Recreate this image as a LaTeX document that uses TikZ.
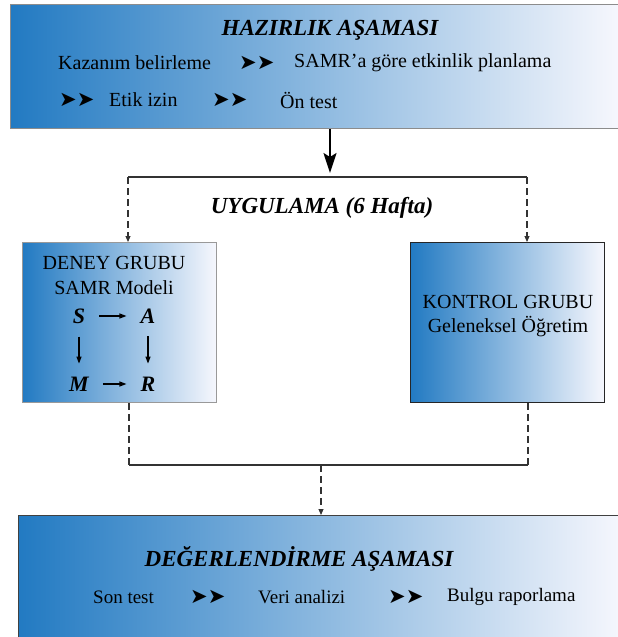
\documentclass[tikz,border=0pt]{standalone}
\usepackage{fontspec}
\setmainfont{Liberation Serif}
\newfontfamily\chevfont{DejaVu Sans}
\usetikzlibrary{arrows.meta}
\definecolor{gblue}{RGB}{34,122,194}
\definecolor{gwhite}{RGB}{246,247,253}
\begin{document}
\begin{tikzpicture}[x=1pt,y=-1pt,
  gbox/.style={left color=gblue,right color=gwhite,anchor=north west,inner sep=0pt},
  txt/.style={font=\fontsize{20}{24}\selectfont,inner sep=0pt,anchor=west},
  btxt/.style={font=\fontsize{19}{23}\selectfont,inner sep=0pt,anchor=west},
  ctxt/.style={font=\fontsize{20}{24}\selectfont,inner sep=0pt},
  ttl/.style={font=\fontsize{23}{27}\selectfont\bfseries\itshape,inner sep=0pt},
  chev/.style={font=\chevfont\fontsize{21}{23}\selectfont,inner sep=0pt,anchor=west},
  letter/.style={font=\fontsize{22}{26}\selectfont\bfseries\itshape,inner xsep=14pt,inner ysep=13pt},
  mainarrow/.style={line width=2pt,shorten >=4pt,-{Stealth[length=20pt,width=13pt,inset=4pt]}},
  solidline/.style={line width=1.2pt,draw=black!80},
  dashline/.style={line width=1.1pt,draw=black!80,dash pattern=on 7pt off 4pt},
  dasharrow/.style={dashline,-{Triangle[length=6pt,width=5pt]}},
  smallarrow/.style={line width=1.1pt,-{Triangle[length=7pt,width=5pt]}}
]
\useasboundingbox (0,0) rectangle (618,637);
\fill[white] (0,0) rectangle (618,637);

% top phase
\node[gbox,draw=black!45,line width=0.8pt,minimum width=608pt,minimum height=124pt] (prep) at (10,4) {};
\node[ttl] (t1) at (330,30) {HAZIRLIK AŞAMASI};
\node[txt] (p1) at (58,63) {Kazanım belirleme};
\node[chev] (c1) at (239,63) {➤➤};
\node[txt] (p2) at (294,63) {SAMR’a göre etkinlik planlama};
\node[chev] (c2) at (59,100) {➤➤};
\node[txt] (p3) at (109,100) {Etik izin};
\node[chev] (c3) at (212,100) {➤➤};
\node[txt] (p4) at (280,100) {Ön test};

% split
\coordinate (sp) at (330,177);
\coordinate (spL) at (128,177);
\coordinate (spR) at (527,177);
\draw[mainarrow] (prep.south -| sp) -- (sp);
\draw[solidline] (spL) -- (spR);

\node[ttl] (t2) at (322,208) {UYGULAMA (6 Hafta)};

% group boxes
\node[gbox,draw=black!40,line width=1pt,minimum width=194pt,minimum height=160pt] (deney) at (22,242) {};
\node[gbox,draw=black!85,line width=1.2pt,minimum width=194pt,minimum height=160pt] (kontrol) at (410,242) {};

\draw[dasharrow] (spL) -- (spL |- deney.north);
\draw[dasharrow] (spR) -- (spR |- kontrol.north);

\node[ctxt] (d1) at (114,263) {DENEY GRUBU};
\node[ctxt] (d2) at (114,288) {SAMR Modeli};
\node[letter] (S) at (79,316) {S};
\node[letter] (A) at (148,316) {A};
\node[letter] (M) at (79,384) {M};
\node[letter] (R) at (148,384) {R};
\draw[smallarrow] (S) -- (A);
\draw[smallarrow] (S) -- (M);
\draw[smallarrow] (A) -- (R);
\draw[smallarrow] (M) -- (R);

\node[ctxt] (k1) at (508,302) {KONTROL GRUBU};
\node[ctxt] (k2) at (508,327) {Geleneksel Öğretim};

% join
\coordinate (jL) at (129,465);
\coordinate (jR) at (528,465);
\coordinate (jm) at (321,465);
\draw[dashline] (deney.south -| jL) -- (jL);
\draw[dashline] (kontrol.south -| jR) -- (jR);
\draw[solidline] (jL) -- (jR);

% evaluation phase
\node[gbox,draw=black!75,line width=1pt,minimum width=604pt,minimum height=126pt] (eval) at (18,515) {};
\draw[dasharrow] (jm) -- (jm |- eval.north);

\node[ttl] (t3) at (299,559) {DEĞERLENDİRME AŞAMASI};
\node[btxt] (e1) at (93,597) {Son test};
\node[chev] (c4) at (190,597) {➤➤};
\node[btxt] (e2) at (258,597) {Veri analizi};
\node[chev] (c5) at (388,597) {➤➤};
\node[btxt] (e3) at (447,597) {Bulgu raporlama};
\end{tikzpicture}
\end{document}
